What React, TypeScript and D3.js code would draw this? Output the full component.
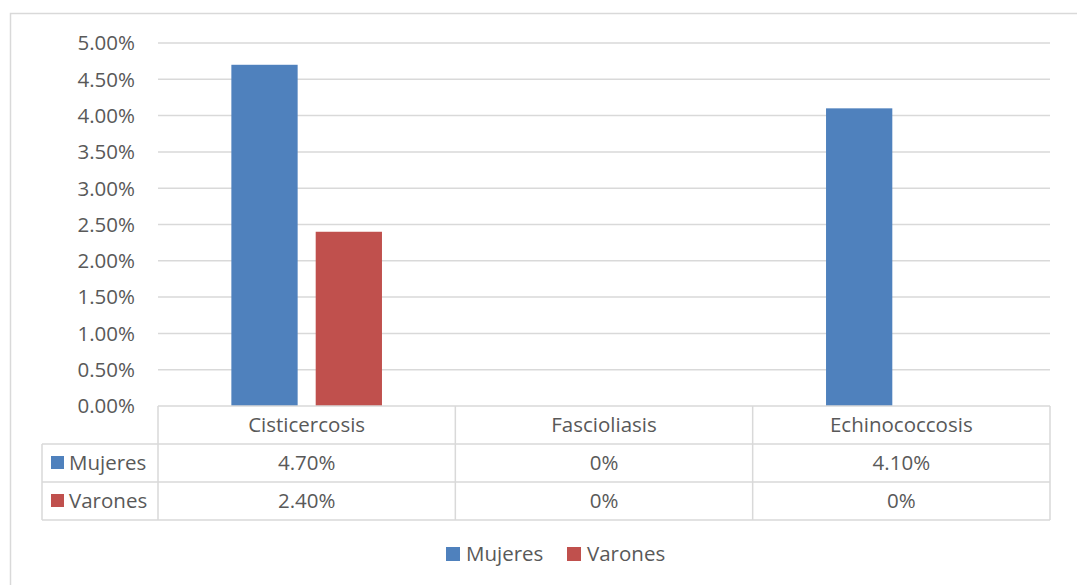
import React from "react";
import * as d3 from "d3";

const categories = ["Cisticercosis", "Fascioliasis", "Echinococcosis"];
const seriesNames = ["Mujeres", "Varones"];
const mujeres = [4.7, 0, 4.1];
const varones = [2.4, 0, 0];
const mujeresLabels = ["4.70%", "0%", "4.10%"];
const varonesLabels = ["2.40%", "0%", "0%"];
const yTicks = [0, 0.5, 1, 1.5, 2, 2.5, 3, 3.5, 4, 4.5, 5];
const colors = ["#4f81bd", "#c0504d"];

const W = 1077;
const H = 585;
const left = 158;
const right = 1050;
const top = 43;
const bottom = 406;
const rowH = 38;
const tableLeft = 42;
const font = "'Open Sans', Lato, sans-serif";
const fs = 20.5;
const textColor = "#595959";
const lineColor = "#d9d9d9";

export default function App() {
  const x = d3.scaleBand<string>().domain(categories).range([left, right]);
  const y = d3.scaleLinear().domain([0, 5]).range([bottom, top]);
  const inner = d3
    .scaleBand<string>()
    .domain(seriesNames)
    .range([0, x.bandwidth()])
    .paddingInner(0.214)
    .paddingOuter(0.87);
  const series = [mujeres, varones];
  const labels = [mujeresLabels, varonesLabels];

  return (
    <svg width={W} height={H} style={{ position: "absolute", left: 0, top: 0 }} fontFamily={font}>
      <rect x={0} y={0} width={W} height={H} fill="#fff" />
      <rect x={10.5} y={13.5} width={W + 10} height={H + 10} fill="none" stroke={lineColor} strokeWidth={1.5} />
      {yTicks.map((t) => (
        <g key={t}>
          {t > 0 && (
            <line x1={left} x2={right} y1={y(t)} y2={y(t)} stroke={lineColor} strokeWidth={1.5} />
          )}
          <text x={135} y={y(t)} dy="0.36em" textAnchor="end" fontSize={fs} fill={textColor}>
            {t.toFixed(2)}%
          </text>
        </g>
      ))}
      {series.map((vals, si) =>
        categories.map((c, ci) =>
          vals[ci] > 0 ? (
            <rect
              key={`${si}-${ci}`}
              x={(x(c) as number) + (inner(seriesNames[si]) as number)}
              y={y(vals[ci])}
              width={inner.bandwidth()}
              height={bottom - y(vals[ci])}
              fill={colors[si]}
            />
          ) : null
        )
      )}
      {/* data table */}
      <g stroke={lineColor} strokeWidth={1.5} fill="none">
        <line x1={left} x2={right} y1={bottom} y2={bottom} />
        <line x1={tableLeft} x2={right} y1={bottom + rowH} y2={bottom + rowH} />
        <line x1={tableLeft} x2={right} y1={bottom + 2 * rowH} y2={bottom + 2 * rowH} />
        <line x1={tableLeft} x2={right} y1={bottom + 3 * rowH} y2={bottom + 3 * rowH} />
        <line x1={tableLeft} x2={tableLeft} y1={bottom + rowH} y2={bottom + 3 * rowH} />
        {categories.map((c) => (
          <line key={c} x1={x(c)} x2={x(c)} y1={bottom} y2={bottom + 3 * rowH} />
        ))}
        <line x1={right} x2={right} y1={bottom} y2={bottom + 3 * rowH} />
      </g>
      {categories.map((c) => (
        <text
          key={c}
          x={(x(c) as number) + x.bandwidth() / 2}
          y={bottom + rowH / 2}
          dy="0.36em"
          textAnchor="middle"
          fontSize={fs}
          fill={textColor}
        >
          {c}
        </text>
      ))}
      {labels.map((row, si) => (
        <g key={si}>
          <rect x={51} y={bottom + rowH * (si + 1) + 12} width={13} height={13} fill={colors[si]} />
          <text x={69} y={bottom + rowH * (si + 1.5)} dy="0.36em" fontSize={fs} fill={textColor}>
            {seriesNames[si]}
          </text>
          {row.map((v, ci) => (
            <text
              key={ci}
              x={(x(categories[ci]) as number) + x.bandwidth() / 2}
              y={bottom + rowH * (si + 1.5)}
              dy="0.36em"
              textAnchor="middle"
              fontSize={fs}
              fill={textColor}
            >
              {v}
            </text>
          ))}
        </g>
      ))}
      {/* legend */}
      {seriesNames.map((s, si) => (
        <g key={s} transform={`translate(${446 + si * 121},0)`}>
          <rect x={0} y={547} width={14} height={14} fill={colors[si]} />
          <text x={20} y={554} dy="0.36em" fontSize={fs} fill={textColor}>
            {s}
          </text>
        </g>
      ))}
    </svg>
  );
}
